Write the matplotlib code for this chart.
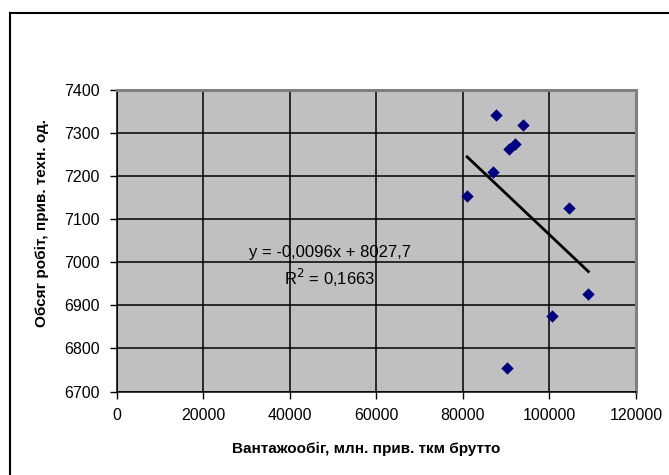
import matplotlib
matplotlib.use("Agg")
import matplotlib.pyplot as plt
import numpy as np
from matplotlib.lines import Line2D

plt.rcParams['font.family'] = ['Liberation Sans', 'DejaVu Sans']

# Data
freight = [87700, 94000, 92000, 90600, 86900, 81000, 104600, 109000, 100700, 90300]
work = [7341, 7318, 7275, 7262, 7210, 7153, 7127, 6926, 6875, 6755]
x_ticks = [0, 20000, 40000, 60000, 80000, 100000, 120000]
y_ticks = [6700, 6800, 6900, 7000, 7100, 7200, 7300, 7400]
eq_text = "y = -0,0096x + 8027,7"
r2_text = "R$^2$ = 0,1663"
x_label = "Вантажообіг, млн. прив. ткм брутто"
y_label = "Обсяг робіт, прив. техн. од."

W, H = 669, 475
fig = plt.figure(figsize=(W / 100, H / 100), dpi=100)
fig.patch.set_facecolor('white')

# outer chart border (only top/left visible in reference)
fig.add_artist(Line2D([10 / W, 10 / W], [0, 1 - 13 / H], color='black', lw=1.5, transform=fig.transFigure))
fig.add_artist(Line2D([10 / W, 1], [1 - 13 / H, 1 - 13 / H], color='black', lw=1.5, transform=fig.transFigure))

left, right, top, bottom = 116.5, 636, 90, 391.5
ax = fig.add_axes([left / W, 1 - bottom / H, (right - left) / W, (bottom - top) / H])
ax.set_facecolor('#C0C0C0')
ax.set_xlim(0, 120000)
ax.set_ylim(6700, 7400)
ax.set_xticks(x_ticks)
ax.set_yticks(y_ticks)
ax.set_xticklabels([str(v) for v in x_ticks], fontsize=11.5)
ax.set_yticklabels([str(v) for v in y_ticks], fontsize=11.5)
ax.grid(True, color='black', lw=1.1)
ax.set_axisbelow(True)
ax.tick_params(direction='out', length=5, width=1, color='black', pad=7)
for s in ['left', 'bottom']:
    ax.spines[s].set_color('black')
    ax.spines[s].set_linewidth(1.1)
for s in ['top', 'right']:
    ax.spines[s].set_color('#808080')
    ax.spines[s].set_linewidth(2.2)

ax.scatter(freight, work, marker='D', s=40, color='#000080', zorder=3, linewidths=0)

# linear trend line
xs = np.array(freight, dtype=float)
ys = np.array(work, dtype=float)
k, b = np.polyfit(xs, ys, 1)
xl = np.array([xs.min(), xs.max()])
ax.plot(xl, k * xl + b, color='black', lw=2, zorder=4)

fig.text(330 / W, 1 - 252 / H, eq_text, fontsize=12, ha='center', va='center')
fig.text(330 / W, 1 - 278 / H, r2_text, fontsize=12, ha='center', va='center')

fig.text(366 / W, 1 - 449 / H, x_label, fontsize=11, fontweight='bold', ha='center', va='center')
fig.text(42 / W, 1 - 223 / H, y_label, fontsize=11, fontweight='bold', ha='center', va='center', rotation=90)

fig.savefig('out.png', dpi=100)
